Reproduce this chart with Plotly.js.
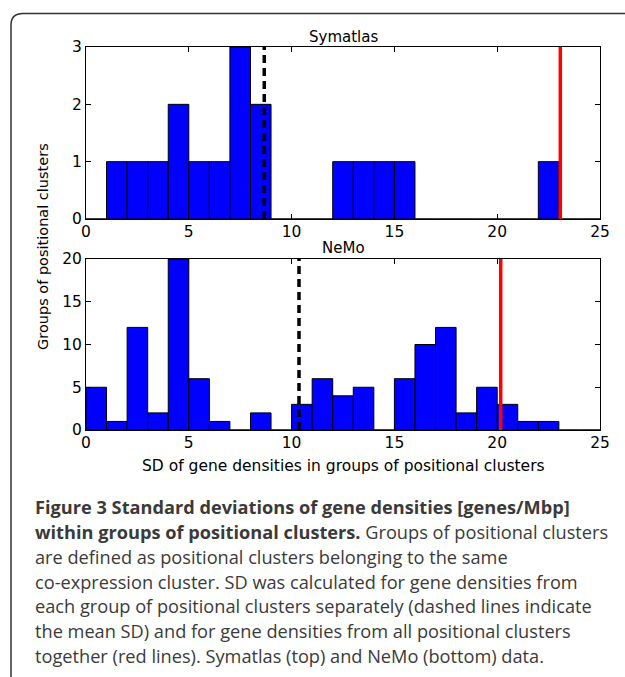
<!DOCTYPE html>
<html><head><meta charset="utf-8">
<script src="https://cdn.plot.ly/plotly-3.0.1.min.js"></script>
<style>html,body{margin:0;padding:0;background:#fff}#c{width:625px;height:677px}</style>
</head><body><div id="c"></div>
<script>
// ---- data ----
const binCenters = [0.5,1.5,2.5,3.5,4.5,5.5,6.5,7.5,8.5,9.5,10.5,11.5,12.5,13.5,14.5,15.5,16.5,17.5,18.5,19.5,20.5,21.5,22.5,23.5,24.5];
const symatlasCounts = [0,1,1,1,2,1,1,3,2,0,0,0,1,1,1,1,0,0,0,0,0,0,1,0,0];
const nemoCounts     = [5,1,12,2,20,6,1,0,2,0,3,6,4,5,0,6,10,12,2,5,3,1,1,0,0];
const symatlasMeanSD = 8.67, symatlasAllSD = 23.07;
const nemoMeanSD = 10.36, nemoAllSD = 20.17;
const xTicks = [0,5,10,15,20,25];
const yTicksTop = [0,1,2,3];
const yTicksBottom = [0,5,10,15,20];
const panelTitles = ["Symatlas","NeMo"];
const xTitle = "SD of gene densities in groups of positional clusters";
const yTitle = "Groups of positional clusters";
const captionLines = [
  "<b>Figure 3 Standard deviations of gene densities [genes/Mbp]</b>",
  "<b>within groups of positional clusters.</b> Groups of positional clusters",
  "are defined as positional clusters belonging to the same",
  "co-expression cluster. SD was calculated for gene densities from",
  "each group of positional clusters separately (dashed lines indicate",
  "the mean SD) and for gene densities from all positional clusters",
  "together (red lines). Symatlas (top) and NeMo (bottom) data."
];

// ---- geometry helpers (pixel -> paper) ----
const W = 625, H = 677, L = 86, R = 600, T = 47, B = 430;
const px = x => (x - L) / (R - L);
const py = y => (B - y) / (B - T);

const barStyle = {color:'#0000ff', line:{color:'#000', width:1}};
const traces = [
  {type:'bar', x:binCenters, y:symatlasCounts, width:1, marker:barStyle, xaxis:'x', yaxis:'y', hoverinfo:'skip'},
  {type:'bar', x:binCenters, y:nemoCounts, width:1, marker:barStyle, xaxis:'x2', yaxis:'y2', hoverinfo:'skip'},
  {type:'scatter', mode:'lines', x:[symatlasMeanSD,symatlasMeanSD], y:[0,3], line:{color:'#000', width:3.5, dash:'8px,5px'}, xaxis:'x', yaxis:'y'},
  {type:'scatter', mode:'lines', x:[symatlasAllSD,symatlasAllSD], y:[0,3], line:{color:'#ff0000', width:3.5}, xaxis:'x', yaxis:'y'},
  {type:'scatter', mode:'lines', x:[nemoMeanSD,nemoMeanSD], y:[0,20], line:{color:'#000', width:3.5, dash:'8px,5px'}, xaxis:'x2', yaxis:'y2'},
  {type:'scatter', mode:'lines', x:[nemoAllSD,nemoAllSD], y:[0,20], line:{color:'#ff0000', width:3.5}, xaxis:'x2', yaxis:'y2'}
];

const tickFont = {family:'DejaVu Sans', size:15.5, color:'#000'};
function xax(anchor){
  return {anchor:anchor, range:[0,25], tickvals:xTicks, ticktext:xTicks.map(String), ticks:'inside', ticklen:5, tickcolor:'#000',
    showline:true, linecolor:'#000', linewidth:1, mirror:'ticks', showgrid:false, zeroline:false, tickfont:tickFont, fixedrange:true, ticklabelstandoff:-2};
}
function yax(anchor, dom, rng, tv){
  return {anchor:anchor, domain:dom, range:rng, tickvals:tv, ticktext:tv.map(String), ticks:'inside', ticklen:5, tickcolor:'#000',
    showline:true, linecolor:'#000', linewidth:1, mirror:'ticks', showgrid:false, zeroline:false, tickfont:tickFont, fixedrange:true};
}

const annotations = [
  {text:panelTitles[0], xref:'paper', yref:'paper', x:0.5, y:py(37), xanchor:'center', yanchor:'middle', showarrow:false, font:{family:'DejaVu Sans', size:15, color:'#000'}},
  {text:panelTitles[1], xref:'paper', yref:'paper', x:0.5, y:py(248), xanchor:'center', yanchor:'middle', showarrow:false, font:{family:'DejaVu Sans', size:15, color:'#000'}},
  {text:xTitle, xref:'paper', yref:'paper', x:0.5, y:py(466), xanchor:'center', yanchor:'middle', showarrow:false, font:{family:'DejaVu Sans', size:15.5, color:'#000'}},
  {text:yTitle, xref:'paper', yref:'paper', x:px(43), y:py(247), xanchor:'center', yanchor:'middle', textangle:-90, showarrow:false, font:{family:'DejaVu Sans', size:14.5, color:'#000'}}
];
const capY = [507, 532, 557, 582, 606, 631, 656];
captionLines.forEach((t,i) => {
  annotations.push({text:t, xref:'paper', yref:'paper', x:px(33), y:py(capY[i]), xanchor:'left', yanchor:'middle', showarrow:false,
    font:{family:'Open Sans', size:18.2, color:'#3a3a3a'}});
});

const shapes = [
  {type:'path', xref:'paper', yref:'paper',
   path:`M ${px(11)} ${py(H+5)} L ${px(11)} ${py(25)} Q ${px(11)} ${py(13.5)} ${px(23)} ${py(13.5)} L ${px(W+5)} ${py(13.5)}`,
   line:{color:'#333', width:1.5}}
];

const layout = {
  width:W, height:H, margin:{l:L, r:W-R, t:T, b:H-B, pad:0},
  paper_bgcolor:'#fff', plot_bgcolor:'#fff', showlegend:false, bargap:0,
  xaxis:xax('y'), yaxis:yax('x', [py(219), 1], [0,3], yTicksTop),
  xaxis2:xax('y2'), yaxis2:yax('x2', [0, py(259)], [0,20], yTicksBottom),
  annotations:annotations, shapes:shapes
};
Plotly.newPlot('c', traces, layout, {staticPlot:true, displayModeBar:false});
</script></body></html>
